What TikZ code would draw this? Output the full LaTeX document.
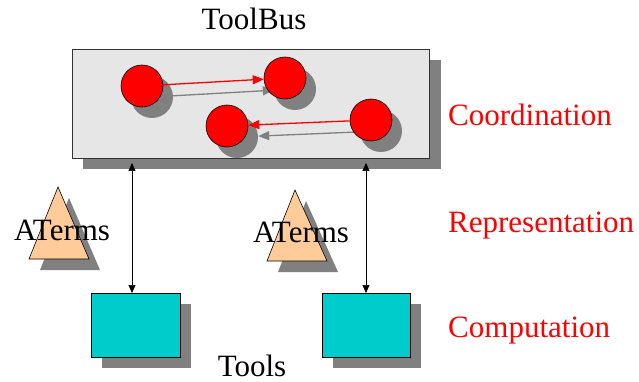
\documentclass[tikz,border=0pt]{standalone}
\usepackage{fontspec}
\setmainfont{Liberation Serif}
\usetikzlibrary{arrows.meta}
\definecolor{shgray}{HTML}{808080}
\definecolor{boxgray}{HTML}{E6E6E6}
\definecolor{peach}{HTML}{FFCC99}
\definecolor{tcyan}{HTML}{00CCCC}
\begin{document}
\begin{tikzpicture}[x=1pt,y=-1pt,
  lbl/.style={inner sep=0pt,font=\fontsize{31}{31}\selectfont},
  redlbl/.style={lbl,text=red,anchor=base west},
  shadow/.style={fill=shgray,draw=none},
  proc/.style={circle,minimum size=42pt,inner sep=0pt,fill=red,draw=black,line width=0.6pt},
  procsh/.style={circle,minimum size=42pt,inner sep=0pt,fill=shgray,draw=none},
  msg/.style={draw=red,line width=1.3pt,-{Triangle[length=11pt,width=9pt]}},
  msgsh/.style={draw=shgray,line width=1.3pt,-{Triangle[length=11pt,width=9pt]}},
  link/.style={draw=black,line width=0.7pt,{Triangle[length=8pt,width=7pt]}-{Triangle[length=8pt,width=7pt]}},
  toolbox/.style={fill=tcyan,draw=black,line width=0.6pt},
  tri/.style={fill=peach,draw=black,line width=0.6pt}
]
\useasboundingbox (0,0) rectangle (639,382);

% ToolBus box
\fill[shadow] (83,60) rectangle (441,169);
\node[draw=black!80,fill=boxgray,line width=0.8pt,minimum width=357pt,minimum height=109pt,inner sep=0pt,anchor=north west] (tb) at (72,49) {};
\node[lbl,anchor=base] (tbl) at (254,30) {ToolBus};

% process shadows
\node[procsh] (s1) at (152,97) {};
\node[procsh] (s2) at (295,89) {};
\node[procsh] (s3) at (237,137) {};
\node[procsh] (s4) at (381,131) {};
\draw[msgsh] (s1) -- (s2);
\draw[msgsh] (s4) -- (s3);

% processes
\node[proc] (p1) at (142,86) {};
\node[proc] (p2) at (285,78) {};
\node[proc] (p3) at (227,126) {};
\node[proc] (p4) at (371,120) {};
\draw[msg] (p1) -- (p2);
\draw[msg] (p4) -- (p3);

% ATerms triangles
\fill[shadow] (69,198) -- (40,270) -- (100,270) -- cycle;
\draw[tri] (58,187) -- (29,259) -- (89,259) -- cycle;
\fill[shadow] (306,201) -- (278,272) -- (338,272) -- cycle;
\draw[tri] (295,190) -- (267,261) -- (327,261) -- cycle;
\node[lbl,anchor=base] (at1) at (62,240) {ATerms};
\node[lbl,anchor=base] (at2) at (301,242) {ATerms};

% tools
\fill[shadow] (102,304) rectangle (191,368);
\node[toolbox,minimum width=89pt,minimum height=64pt,inner sep=0pt,anchor=north west] (t1) at (91,293) {};
\fill[shadow] (333,304) rectangle (421,368);
\node[toolbox,minimum width=88pt,minimum height=64pt,inner sep=0pt,anchor=north west] (t2) at (322,293) {};
\node[lbl,anchor=base] (tools) at (252,376) {Tools};

% links
\coordinate (a1) at (132,163);
\coordinate (a2) at (366,163);
\draw[link] (a1) -- (a1 |- t1.north);
\draw[link] (a2) -- (a2 |- t2.north);

% layer labels
\node[redlbl] (l1) at (448,126) {Coordination};
\node[redlbl] (l2) at (448,232) {Representation};
\node[redlbl] (l3) at (448,337) {Computation};
\end{tikzpicture}
\end{document}
